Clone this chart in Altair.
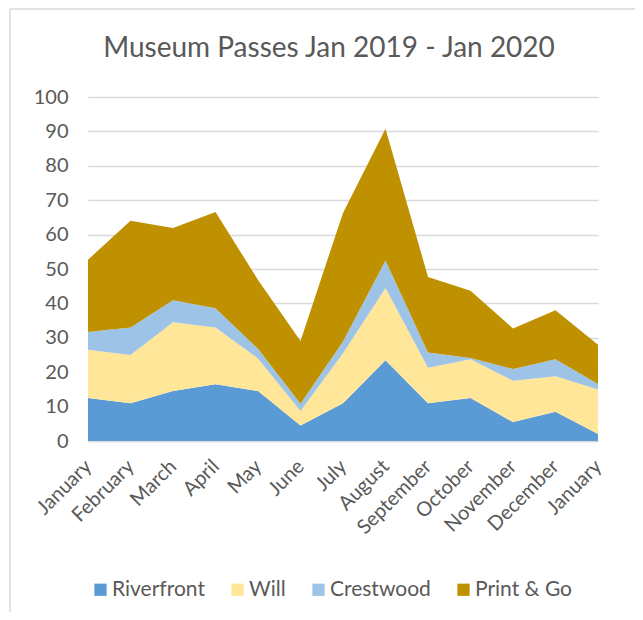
import altair as alt
import pandas as pd

months = ["January", "February", "March", "April", "May", "June", "July",
          "August", "September", "October", "November", "December", "January"]
series = ["Riverfront", "Will", "Crestwood", "Print & Go"]
riverfront = [12.5, 11, 14.5, 16.5, 14.5, 4.5, 11, 23.5, 11, 12.5, 5.5, 8.5, 2]
will = [14, 14, 20, 16.5, 9.5, 4.2, 14.5, 21, 10.3, 11.3, 12, 10.3, 13]
crestwood = [5.2, 8, 6.4, 5.6, 2.8, 2.1, 3.4, 8, 4.4, 0.3, 3.4, 5, 1.6]
print_go = [21, 31, 21, 28, 20, 18.3, 37.4, 38.3, 22, 19.6, 11.8, 14.2, 11.4]
colors = ["#5B9BD5", "#FFE699", "#9DC3E6", "#BF9000"]
y_ticks = [0, 10, 20, 30, 40, 50, 60, 70, 80, 90, 100]

rows = []
for si, (name, vals) in enumerate(zip(series, [riverfront, will, crestwood, print_go])):
    for mi, v in enumerate(vals):
        rows.append({"idx": mi, "series": name, "order": si, "value": v})
df = pd.DataFrame(rows)

FONT = "Lato"
GREY = "#595959"
label_expr = "[" + ",".join("'" + m + "'" for m in months) + "][datum.value]"

area = alt.Chart(df).mark_area(opacity=1).encode(
    x=alt.X("idx:Q", scale=alt.Scale(domain=[0, 12], nice=False, zero=False),
            axis=alt.Axis(title=None, values=list(range(13)), labelExpr=label_expr,
                          labelAngle=-45, labelAlign="right", labelBaseline="middle",
                          labelFontSize=20, labelColor=GREY, labelFont=FONT,
                          labelPadding=22, ticks=False, grid=False,
                          domainColor="#d9d9d9", domainWidth=1.5, labelOverlap=False,
                          labelBound=False, labelFlush=False)),
    y=alt.Y("value:Q", stack="zero", scale=alt.Scale(domain=[0, 100], nice=False),
            axis=alt.Axis(title=None, values=y_ticks, labelFontSize=20, labelColor=GREY,
                          labelFont=FONT, labelPadding=20, ticks=False, domain=False,
                          gridColor="#d9d9d9", gridWidth=1.5)),
    color=alt.Color("series:N", scale=alt.Scale(domain=series, range=colors),
                    legend=alt.Legend(title=None, orient="none", legendX=2, legendY=482,
                                      direction="horizontal", symbolType="square",
                                      symbolSize=150, symbolStrokeWidth=0,
                                      labelFontSize=21, labelFont=FONT, labelColor=GREY,
                                      columnPadding=22, labelOffset=1)),
    order=alt.Order("order:Q"),
)

border_top = alt.Chart(alt.Data(values=[{}])).mark_rule(color="#d9d9d9", strokeWidth=1.5).encode(
    x=alt.value(-78), x2=alt.value(560), y=alt.value(-88))
border_left = alt.Chart(alt.Data(values=[{}])).mark_rule(color="#d9d9d9", strokeWidth=1.5).encode(
    x=alt.value(-78), y=alt.value(-88), y2=alt.value(560))

chart = alt.layer(border_top, border_left, area).properties(
    width=510, height=344,
    title=alt.TitleParams("Museum Passes Jan 2019 - Jan 2020", font=FONT, fontSize=28,
                          fontWeight="normal", color=GREY, anchor="middle",
                          frame="group", dx=-14, offset=-55),
    autosize=alt.AutoSizeParams(type="none"),
    padding={"left": 80, "top": 89, "right": 37, "bottom": 171},
).configure_view(stroke=None)

chart.save("out.html", embed_options={"renderer": "svg", "actions": False})
